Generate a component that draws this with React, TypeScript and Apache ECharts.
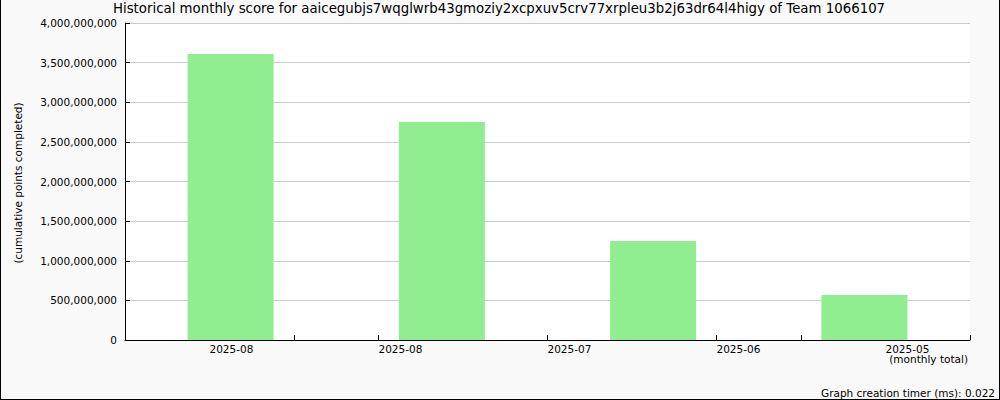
import React, { useEffect, useRef } from "react";
import * as echarts from "echarts";

const titleText =
  "Historical monthly score for aaicegubjs7wqglwrb43gmoziy2xcpxuv5crv77xrpleu3b2j63dr64l4higy of Team 1066107";
const barCategories = ["b1", "b2", "b3", "b4"];
const barValues = [3609000000, 2751000000, 1249000000, 568000000];
const xTickLabels = ["2025-08", "2025-08", "2025-07", "2025-06", "2025-05"];
const yAxisName = "(cumulative points completed)";
const xAxisName = "(monthly total)";
const footerText = "Graph creation timer (ms): 0.022";

const FONT = "DejaVu Sans";

function fmt(v: number): string {
  return Math.round(v).toString().replace(/\B(?=(\d{3})+(?!\d))/g, ",");
}

export default function App() {
  const ref = useRef<HTMLDivElement>(null);
  useEffect(() => {
    if (!ref.current) return;
    const chart = echarts.init(ref.current, undefined, { renderer: "svg" });
    const option: any = {
      animation: false,
      backgroundColor: "#f9f9f9",
      textStyle: { fontFamily: FONT },
      grid: {
        left: 125,
        right: 30,
        top: 23,
        bottom: 60,
        show: true,
        backgroundColor: "#ffffff",
        borderWidth: 0,
      },
      xAxis: [
        {
          type: "category",
          data: barCategories,
          show: false,
          boundaryGap: true,
        },
        {
          type: "value",
          position: "bottom",
          min: 0,
          max: 10,
          interval: 1,
          axisLine: { show: true, lineStyle: { color: "#000", width: 1 } },
          axisTick: {
            show: true,
            inside: true,
            length: 5,
            lineStyle: { color: "#000" },
          },
          splitLine: { show: false },
          axisLabel: {
            show: true,
            color: "#000",
            fontFamily: FONT,
            fontSize: 10.5,
            align: "left",
            margin: 3,
            showMinLabel: true,
            showMaxLabel: true,
            formatter: (v: number) => {
              const r = Math.round(v);
              if (r % 2 === 1) return xTickLabels[(r - 1) / 2] ?? "";
              return "";
            },
          },
        },
      ],
      yAxis: {
        type: "value",
        min: 0,
        max: 4000000000,
        interval: 500000000,
        axisLine: { show: true, lineStyle: { color: "#000", width: 1 } },
        axisTick: {
          show: true,
          inside: true,
          length: 5,
          lineStyle: { color: "#000" },
        },
        splitLine: { show: true, lineStyle: { color: "#cccccc", width: 1 } },
        axisLabel: {
          color: "#000",
          fontFamily: FONT,
          fontSize: 10.5,
          margin: 8,
          formatter: (v: number) => fmt(v),
        },
      },
      series: [
        {
          type: "bar",
          xAxisIndex: 0,
          data: barValues,
          barWidth: 86,
          itemStyle: { color: "#90ee90" },
        },
      ],
      graphic: [
        {
          type: "text",
          x: 499,
          y: 2,
          style: {
            text: titleText,
            fontFamily: FONT,
            fontSize: 13.33,
            fill: "#000",
            align: "center",
            verticalAlign: "top",
          },
        },
        {
          type: "text",
          x: 18,
          y: 183,
          rotation: Math.PI / 2,
          style: {
            text: yAxisName,
            fontFamily: FONT,
            fontSize: 10.5,
            fill: "#000",
            align: "center",
            verticalAlign: "middle",
          },
        },
        {
          type: "text",
          x: 968,
          y: 353,
          style: {
            text: xAxisName,
            fontFamily: FONT,
            fontSize: 10.5,
            fill: "#000",
            align: "right",
            verticalAlign: "top",
          },
        },
        {
          type: "text",
          x: 995,
          y: 387,
          style: {
            text: footerText,
            fontFamily: FONT,
            fontSize: 10.5,
            fill: "#000",
            align: "right",
            verticalAlign: "top",
          },
        },
        {
          type: "line",
          shape: { x1: 0.5, y1: 0, x2: 0.5, y2: 400 },
          style: { stroke: "#000", lineWidth: 1 },
        },
        {
          type: "line",
          shape: { x1: 999.5, y1: 0, x2: 999.5, y2: 400 },
          style: { stroke: "#000", lineWidth: 1 },
        },
        {
          type: "line",
          shape: { x1: 0, y1: 399.5, x2: 1000, y2: 399.5 },
          style: { stroke: "#000", lineWidth: 1 },
        },
      ],
    };
    chart.setOption(option);
    return () => chart.dispose();
  }, []);
  return (
    <div
      ref={ref}
      style={{ position: "absolute", left: 0, top: 0, width: 1000, height: 400 }}
    />
  );
}
